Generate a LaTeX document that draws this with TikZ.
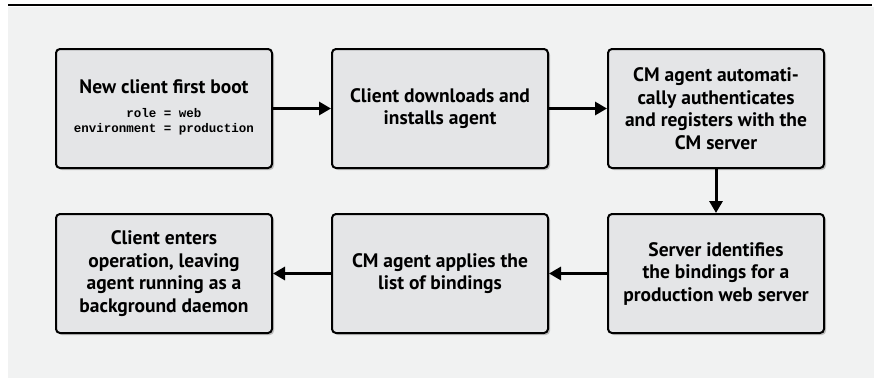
\documentclass[tikz,border=0pt]{standalone}
\usepackage{fontspec}
\setmainfont{PT Sans}
\setmonofont{Liberation Mono}
\usetikzlibrary{arrows.meta,positioning,shadows}
\definecolor{Panel}{HTML}{F1F2F2}
\definecolor{StepFill}{HTML}{E4E5E7}
\newcommand{\stepfont}{\bfseries\fontsize{19.5}{22.5}\selectfont}
\newcommand{\codefont}{\ttfamily\bfseries\fontsize{12.5}{15}\selectfont}

\begin{document}
\begin{tikzpicture}[x=1pt,y=-1pt,>={Triangle[length=12pt,width=13pt]},node distance=44pt and 58pt,
  stepbox/.style={draw,line width=2pt,rounded corners=4pt,fill=StepFill,minimum width=216pt,minimum height=119pt,
    inner sep=0pt,align=center,font=\stepfont,
    drop shadow={shadow xshift=2pt,shadow yshift=-2pt,fill=black!45,opacity=.5}},
  flow/.style={->,line width=3pt}]
\useasboundingbox (0,0) rectangle (874,378);
\fill[Panel] (8,7) rectangle (874,378);
\draw[line width=2.5pt] (8,5.2) -- (872,5.2);
% top row, left to right
\node[stepbox] (boot) at (164,108.5) {New client first boot\\[9pt]
  {\codefont\begin{tabular}{@{}c@{}}role = web\\environment = production\end{tabular}}};
\node[stepbox,right=of boot] (fetch) {Client downloads and\\installs agent};
\node[stepbox,right=of fetch] (auth) {CM agent automati-\\cally authenticates\\and registers with the\\CM server};
% bottom row, right to left
\node[stepbox,below=of auth] (ident) {Server identifies\\the bindings for a\\production web server};
\node[stepbox,left=of ident] (apply) {CM agent applies the\\list of bindings};
\node[stepbox,left=of apply] (oper) {Client enters\\operation, leaving\\agent running as a\\background daemon};
\draw[flow] (boot)--(fetch);
\draw[flow] (fetch)--(auth);
\draw[flow] (auth)--(ident);
\draw[flow] (ident)--(apply);
\draw[flow] (apply)--(oper);
\end{tikzpicture}
\end{document}
